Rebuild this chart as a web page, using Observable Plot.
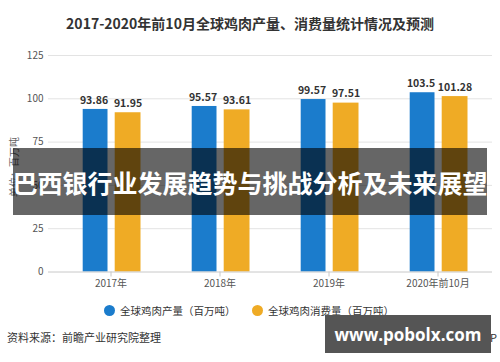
<!DOCTYPE html>
<html><head><meta charset="utf-8">
<script src="https://cdn.jsdelivr.net/npm/d3@7"></script>
<script src="https://cdn.jsdelivr.net/npm/@observablehq/plot@0.6"></script>
<style>
body{margin:0;background:#fff;font-family:"Noto Sans CJK SC","Noto Sans",sans-serif;}
#wrap{position:relative;width:500px;height:362px;overflow:hidden;background:#fff;}
#title{position:absolute;left:0;top:13px;width:500px;text-align:center;font-size:14px;font-weight:bold;color:#333;}
#chart{position:absolute;left:0;top:40px;}
#legend{position:absolute;top:303px;left:0;width:500px;font-size:10.5px;color:#333;}
.lg{position:absolute;display:flex;align-items:center;white-space:nowrap;}
.dot{width:11px;height:11px;border-radius:50%;margin-right:5px;}
#source{position:absolute;left:7px;top:329px;font-size:11px;color:#333;}
#app{position:absolute;right:3px;top:329px;font-size:11px;color:#333;}
#ylab{position:absolute;left:13px;top:167px;transform:translate(-50%,-50%) rotate(-90deg);font-size:10px;color:#666;white-space:nowrap;}
#banner{position:absolute;left:13px;top:148px;width:474px;height:67px;background:rgba(0,0,0,0.6);color:#fff;font-weight:bold;font-size:25px;display:flex;align-items:center;justify-content:center;white-space:nowrap;}
#site{position:absolute;left:325px;top:315px;width:166px;height:38px;background:#555;color:#fff;font-weight:bold;font-size:17px;display:flex;align-items:center;justify-content:center;font-family:"Open Sans","DejaVu Sans",sans-serif;}
</style></head>
<body><div id="wrap">
<div id="title">2017-2020年前10月全球鸡肉产量、消费量统计情况及预测</div>
<div id="chart"></div>
<div id="ylab">单位：百万吨</div>
<div id="legend"></div>
<div id="source">资料来源：前瞻产业研究院整理</div>
<div id="app">@前瞻经济学人APP</div>
<div id="banner">巴西银行业发展趋势与挑战分析及未来展望</div>
<div id="site">www.pobolx.com</div>
</div>
<script>
const categories = ["2017年", "2018年", "2019年", "2020年前10月"];
const production = [93.86, 95.57, 99.57, 103.5];
const consumption = [91.95, 93.61, 97.51, 101.28];
const seriesNames = ["全球鸡肉产量（百万吨）", "全球鸡肉消费量（百万吨）"];
const colors = ["#1b7ccc", "#efab25"];
const yTicks = [0, 25, 50, 75, 100, 125];

const prodData = categories.map((c, i) => ({cat: c, v: production[i]}));
const consData = categories.map((c, i) => ({cat: c, v: consumption[i]}));

const chart = Plot.plot({
  width: 500,
  height: 260,
  marginLeft: 48,
  marginRight: 8,
  marginTop: 15,
  marginBottom: 28.5,
  style: {fontFamily: '"Noto Sans CJK SC","Noto Sans",sans-serif', fontSize: "10px", color: "#555", background: "transparent"},
  x: {domain: categories, range: [55.3, 492.3], padding: 0, label: null},
  y: {domain: [0, 125], label: null},
  marks: [
    Plot.ruleY(yTicks.slice(1), {stroke: "#e3e3e3"}),
    Plot.axisY({ticks: yTicks, tickSize: 0, tickPadding: 5, label: null, fill: "#555"}),
    Plot.barY(prodData, {x: "cat", y: "v", fill: colors[0], insetLeft: 26.7, insetRight: 57.5}),
    Plot.barY(consData, {x: "cat", y: "v", fill: colors[1], insetLeft: 58.7, insetRight: 24.5}),
    Plot.text(prodData, {x: "cat", y: "v", text: d => String(d.v), dx: -17, dy: -9, fontWeight: "bold", fontSize: 10.5, fill: "#333"}),
    Plot.text(consData, {x: "cat", y: "v", text: d => String(d.v), dx: 17, dy: -9, fontWeight: "bold", fontSize: 10.5, fill: "#333"}),
    Plot.ruleY([0], {stroke: "#c8c8c8"}),
    Plot.axisX({tickSize: 5, tickPadding: 3, stroke: "#c8c8c8", fill: "#555", label: null})
  ]
});
document.getElementById("chart").appendChild(chart);

const legend = document.getElementById("legend");
const lgPos = [104, 252];
seriesNames.forEach((name, i) => {
  const item = document.createElement("div");
  item.className = "lg";
  item.style.left = lgPos[i] + "px";
  item.innerHTML = `<span class="dot" style="background:${colors[i]}"></span><span>${name}</span>`;
  legend.appendChild(item);
});
</script>
</body></html>
